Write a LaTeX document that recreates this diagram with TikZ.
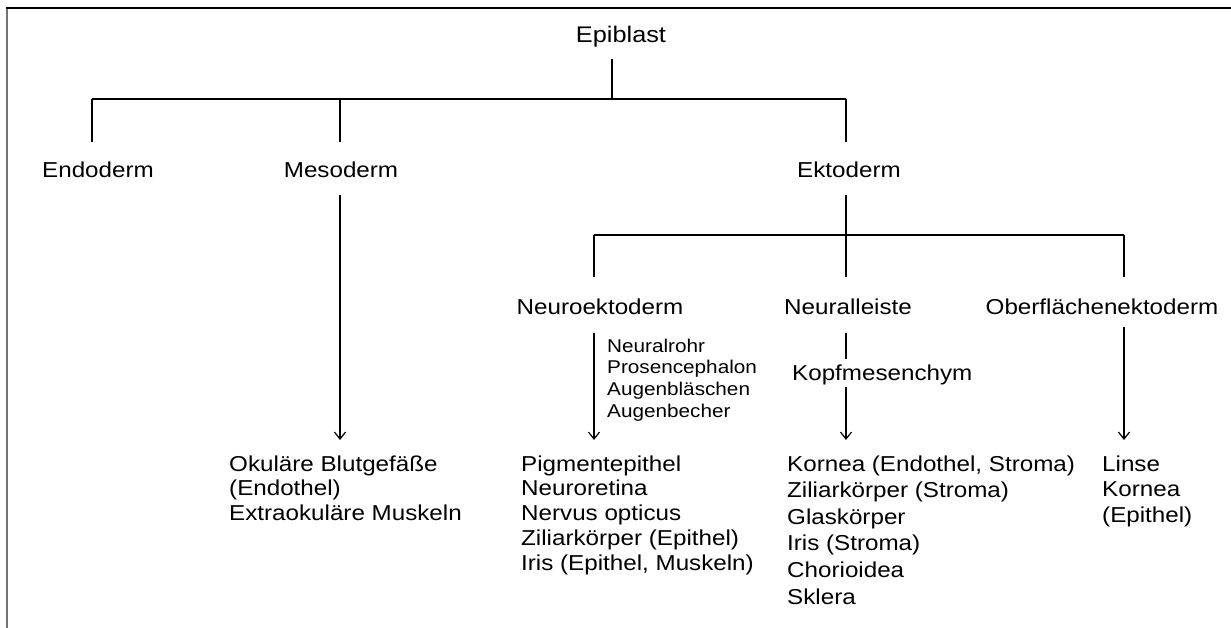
\documentclass[tikz,border=0pt]{standalone}
\usepackage{fontspec}
\setmainfont{Liberation Sans}[FakeStretch=1.12]
\usetikzlibrary{arrows.meta}
\tikzset{
  lbl/.style={font=\fontsize{21.6}{24.8}\selectfont, inner sep=0pt, anchor=base},
  lblw/.style={lbl, anchor=base west},
  smalltxt/.style={font=\fontsize{18.5}{21.8}\selectfont, inner sep=0pt, anchor=base west},
  conn/.style={line width=1.2pt, black},
  arr/.style={conn, -{Straight Barb[length=7pt,width=11pt,line width=1.2pt]}},
  frameline/.style={line width=1.6pt}
}
\newcommand{\lines}[1]{\begin{tabular}[t]{@{}l@{}}#1\end{tabular}}
\begin{document}
\begin{tikzpicture}[x=1pt,y=-1pt]
\useasboundingbox (0,0) rectangle (1231,628);
% frame
\draw[frameline, black!55] (7,628) -- (7,8);
\draw[frameline] (6.2,8) -- (1231,8);

% labels
\node[lbl, font=\fontsize{22.6}{26}\selectfont] (epi) at (621,43) {Epiblast};
\node[lbl] (endo) at (98,178) {Endoderm};
\node[lbl] (meso) at (341,178) {Mesoderm};
\node[lbl] (ekto) at (849,178) {Ektoderm};
\node[lbl] (neuro) at (600,314) {Neuroektoderm};
\node[lbl] (leiste) at (848,314) {Neuralleiste};
\node[lbl] (ober) at (1102,314) {Oberflächenektoderm};
\node[lblw] (kopf) at (792,380) {Kopfmesenchym};
\node[smalltxt] (stufen) at (607,352) {\lines{Neuralrohr\\Prosencephalon\\Augenbläschen\\Augenbecher}};

\node[lblw] (mesoout) at (229,471) {\lines{Okuläre Blutgefäße\\(Endothel)\\Extraokuläre Muskeln}};
\node[lblw] (neuroout) at (521,471) {\lines{Pigmentepithel\\Neuroretina\\Nervus opticus\\Ziliarkörper (Epithel)\\Iris (Epithel, Muskeln)}};
\node[lblw, font=\fontsize{21.6}{26.6}\selectfont] (leisteout) at (787,471) {\lines{Kornea (Endothel, Stroma)\\Ziliarkörper (Stroma)\\Glaskörper\\Iris (Stroma)\\Chorioidea\\Sklera}};
\node[lblw, font=\fontsize{21.6}{25.6}\selectfont] (oberout) at (1102,471) {\lines{Linse\\Kornea\\(Epithel)}};

% coordinates of the tree
\coordinate (epiB) at (612,59);
\coordinate (jA) at (612,99);
\coordinate (barAL) at (92,99);
\coordinate (barAM) at (340,99);
\coordinate (barAR) at (846,99);
\coordinate (endoT) at (92,142);
\coordinate (mesoT) at (340,142);
\coordinate (ektoT) at (846,142);
\coordinate (mesoB) at (340,195);
\coordinate (mesoA) at (340,440);
\coordinate (ektoB) at (846,195);
\coordinate (barBL) at (594,235);
\coordinate (barBR) at (1124,235);
\coordinate (neuroT) at (594,277);
\coordinate (leisteT) at (846,277);
\coordinate (oberT) at (1124,277);
\coordinate (neuroB) at (594,333);
\coordinate (neuroA) at (594,440);
\coordinate (leisteB) at (846,333);
\coordinate (kopfT) at (846,359);
\coordinate (kopfB) at (846,387);
\coordinate (leisteA) at (846,440);
\coordinate (oberB) at (1124,327);
\coordinate (oberA) at (1124,440);

% connectors
\draw[conn] (epiB) -- (jA);
\draw[conn] (barAL) -- (barAR);
\draw[conn] (barAL) -- (endoT);
\draw[conn] (barAM) -- (mesoT);
\draw[conn] (barAR) -- (ektoT);
\draw[arr] (mesoB) -- (mesoA);
\draw[conn] (ektoB) -- (leisteT);
\draw[conn] (barBL) -- (barBR);
\draw[conn] (barBL) -- (neuroT);
\draw[conn] (barBR) -- (oberT);
\draw[arr] (neuroB) -- (neuroA);
\draw[conn] (leisteB) -- (kopfT);
\draw[arr] (kopfB) -- (leisteA);
\draw[arr] (oberB) -- (oberA);
\end{tikzpicture}
\end{document}
